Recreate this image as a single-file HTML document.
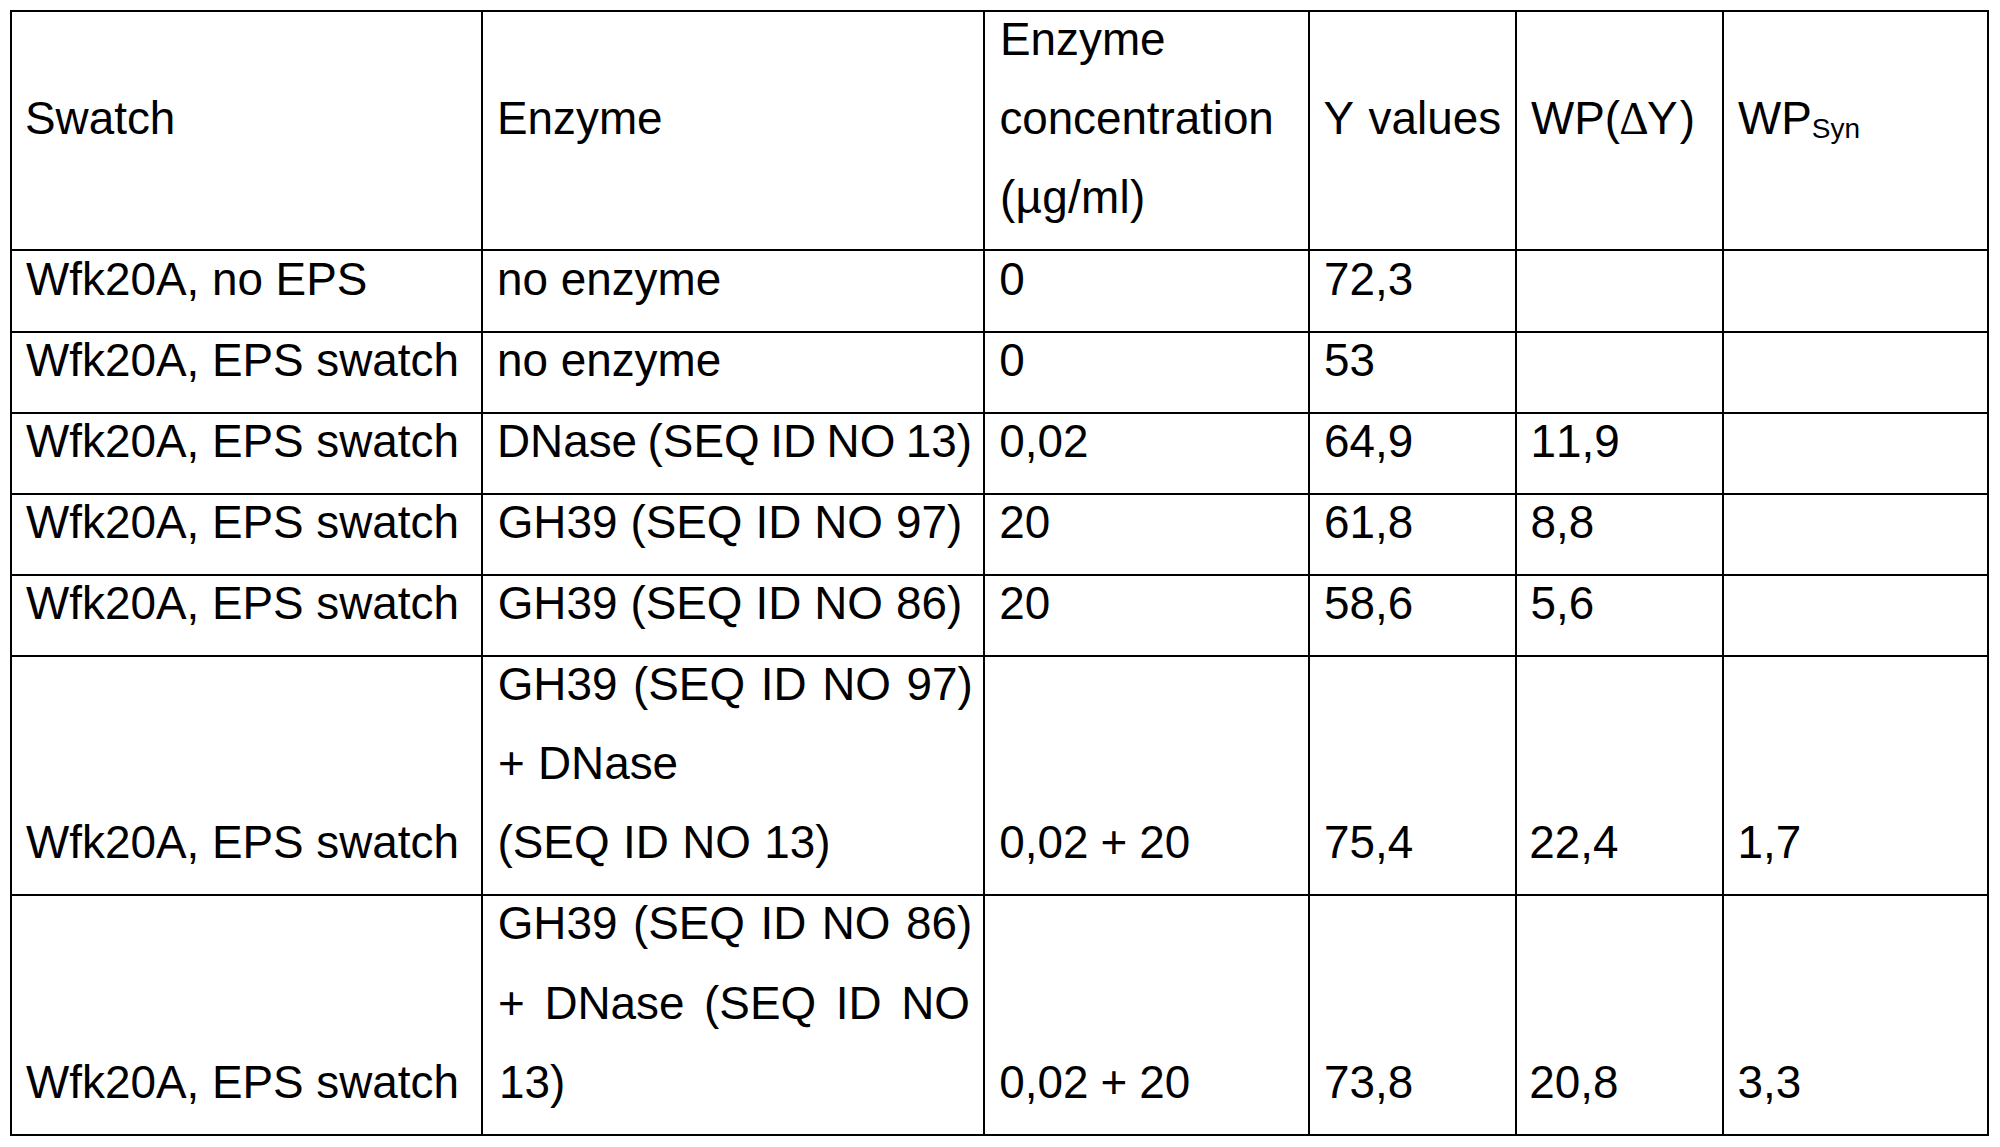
<!DOCTYPE html>
<html lang="en"><head><meta charset="utf-8"><title>Table</title>
<style>
html,body{margin:0;padding:0;background:#fff;}
body{width:2000px;height:1147px;box-sizing:border-box;padding:11px 0 0 11px;position:relative;overflow:hidden;font-family:"Liberation Sans",sans-serif;color:#000;}
.l{position:absolute;background:#000;}
table{border-collapse:collapse;table-layout:fixed;margin:0;border:0;width:1976px;}
td,th{padding:0;border:0;font-weight:normal;text-align:left;}
.t{position:absolute;display:block;white-space:pre;line-height:1;font-size:45.83px;font-kerning:none;font-variant-ligatures:none;}
.d{font-family:"Liberation Serif",serif;margin-left:-0.9px;margin-right:-1.8px;}
.y{letter-spacing:2.4px;}
.s{font-size:28px;vertical-align:-4px;line-height:0;}
</style></head><body>

<div class="grid">
<div class="l" style="left:10px;top:10px;width:1979px;height:2px"></div>
<div class="l" style="left:10px;top:249px;width:1979px;height:2px"></div>
<div class="l" style="left:10px;top:331px;width:1979px;height:2px"></div>
<div class="l" style="left:10px;top:412px;width:1979px;height:2px"></div>
<div class="l" style="left:10px;top:493px;width:1979px;height:2px"></div>
<div class="l" style="left:10px;top:574px;width:1979px;height:2px"></div>
<div class="l" style="left:10px;top:655px;width:1979px;height:2px"></div>
<div class="l" style="left:10px;top:894px;width:1979px;height:2px"></div>
<div class="l" style="left:10px;top:1134px;width:1979px;height:2px"></div>
<div class="l" style="left:10px;top:10px;width:2px;height:1126px"></div>
<div class="l" style="left:481px;top:10px;width:2px;height:1126px"></div>
<div class="l" style="left:983px;top:10px;width:2px;height:1126px"></div>
<div class="l" style="left:1308px;top:10px;width:2px;height:1126px"></div>
<div class="l" style="left:1515px;top:10px;width:2px;height:1126px"></div>
<div class="l" style="left:1722px;top:10px;width:2px;height:1126px"></div>
<div class="l" style="left:1987px;top:10px;width:2px;height:1126px"></div>
</div>
<table>
<colgroup><col style="width:471px"><col style="width:502px"><col style="width:325px"><col style="width:207px"><col style="width:207px"><col style="width:264px"></colgroup>
<tr style="height:239px">
<th><span class="t" style="left:25.00px;top:96.20px;">Swatch</span></th>
<th><span class="t" style="left:497.00px;top:96.20px;">Enzyme</span></th>
<th><span class="t" style="left:1000.00px;top:17.20px;">Enzyme</span><span class="t" style="left:999.40px;top:96.20px;letter-spacing:-0.06px;">concentration</span><span class="t" style="left:1000.00px;top:175.20px;letter-spacing:0.3px;">(µg/ml)</span></th>
<th><span class="t" style="left:1323.50px;top:96.20px;word-spacing:1.8px;">Y values</span></th>
<th><span class="t" style="left:1531.00px;top:96.20px;">WP(<span class="d">Δ</span><span class="y">Y</span>)</span></th>
<th><span class="t" style="left:1738.00px;top:96.20px;">WP<sub class="s">Syn</sub></span></th>
</tr>
<tr style="height:82px">
<td><span class="t" style="left:26.00px;top:257.20px;">Wfk20A, no EPS</span></td>
<td><span class="t" style="left:497.00px;top:257.20px;">no enzyme</span></td>
<td><span class="t" style="left:999.30px;top:257.20px;">0</span></td>
<td><span class="t" style="left:1324.00px;top:257.20px;">72,3</span></td>
<td></td>
<td></td>
</tr>
<tr style="height:81px">
<td><span class="t" style="left:26.00px;top:338.20px;">Wfk20A, EPS swatch</span></td>
<td><span class="t" style="left:497.00px;top:338.20px;">no enzyme</span></td>
<td><span class="t" style="left:999.30px;top:338.20px;">0</span></td>
<td><span class="t" style="left:1324.00px;top:338.20px;">53</span></td>
<td></td>
<td></td>
</tr>
<tr style="height:81px">
<td><span class="t" style="left:26.00px;top:419.20px;">Wfk20A, EPS swatch</span></td>
<td><span class="t" style="left:497.00px;top:419.20px;word-spacing:-2.2px;">DNase (SEQ ID NO 13)</span></td>
<td><span class="t" style="left:999.30px;top:419.20px;">0,02</span></td>
<td><span class="t" style="left:1324.00px;top:419.20px;">64,9</span></td>
<td><span class="t" style="left:1530.50px;top:419.20px;">11,9</span></td>
<td></td>
</tr>
<tr style="height:81px">
<td><span class="t" style="left:26.00px;top:500.20px;">Wfk20A, EPS swatch</span></td>
<td><span class="t" style="left:497.70px;top:500.20px;word-spacing:0.25px;">GH39 (SEQ ID NO 97)</span></td>
<td><span class="t" style="left:999.30px;top:500.20px;">20</span></td>
<td><span class="t" style="left:1324.00px;top:500.20px;">61,8</span></td>
<td><span class="t" style="left:1530.50px;top:500.20px;">8,8</span></td>
<td></td>
</tr>
<tr style="height:81px">
<td><span class="t" style="left:26.00px;top:581.20px;">Wfk20A, EPS swatch</span></td>
<td><span class="t" style="left:497.70px;top:581.20px;word-spacing:0.25px;">GH39 (SEQ ID NO 86)</span></td>
<td><span class="t" style="left:999.30px;top:581.20px;">20</span></td>
<td><span class="t" style="left:1324.00px;top:581.20px;">58,6</span></td>
<td><span class="t" style="left:1530.50px;top:581.20px;">5,6</span></td>
<td></td>
</tr>
<tr style="height:239px">
<td><span class="t" style="left:26.00px;top:820.20px;">Wfk20A, EPS swatch</span></td>
<td><span class="t" style="left:497.70px;top:662.20px;word-spacing:2.9px;">GH39 (SEQ ID NO 97)</span><span class="t" style="left:498.00px;top:741.20px;word-spacing:0.5px;">+ DNase</span><span class="t" style="left:497.50px;top:820.20px;word-spacing:0.67px;">(SEQ ID NO 13)</span></td>
<td><span class="t" style="left:999.30px;top:820.20px;word-spacing:-0.75px;">0,02 + 20</span></td>
<td><span class="t" style="left:1324.00px;top:820.20px;">75,4</span></td>
<td><span class="t" style="left:1529.30px;top:820.20px;">22,4</span></td>
<td><span class="t" style="left:1737.50px;top:820.20px;">1,7</span></td>
</tr>
<tr style="height:240px">
<td><span class="t" style="left:26.00px;top:1060.20px;">Wfk20A, EPS swatch</span></td>
<td><span class="t" style="left:497.70px;top:901.20px;word-spacing:2.75px;">GH39 (SEQ ID NO 86)</span><span class="t" style="left:498.00px;top:981.20px;word-spacing:6.9px;">+ DNase (SEQ ID NO</span><span class="t" style="left:499.00px;top:1060.20px;">13)</span></td>
<td><span class="t" style="left:999.30px;top:1060.20px;word-spacing:-0.75px;">0,02 + 20</span></td>
<td><span class="t" style="left:1324.00px;top:1060.20px;">73,8</span></td>
<td><span class="t" style="left:1529.30px;top:1060.20px;">20,8</span></td>
<td><span class="t" style="left:1737.50px;top:1060.20px;">3,3</span></td>
</tr>
</table>
</body></html>
